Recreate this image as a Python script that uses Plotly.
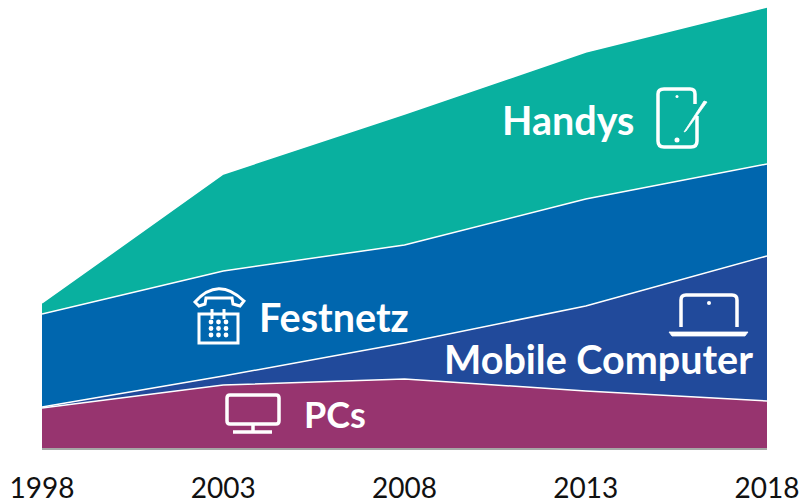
import plotly.graph_objects as go

years = [1998, 2003, 2008, 2013, 2018]
pcs = [40, 63, 69, 57, 47]
mobile = [1, 9, 36, 85, 145]
festnetz = [93, 105, 98, 107, 92]
handys = [11, 97, 131, 147, 157]

W, H = 802, 504
L, R, BASE = 42, 767, 448
FONT = "Lato"
WHITE = "#ffffff"

fig = go.Figure()
series = [("PCs", pcs, "#97346F"), ("Mobile Computer", mobile, "#214A9B"),
          ("Festnetz", festnetz, "#0066AE"), ("Handys", handys, "#09B09F")]
for name, vals, col in series:
    fig.add_trace(go.Scatter(x=years, y=vals, name=name, mode="lines", stackgroup="one",
                             fillcolor=col, line=dict(color=WHITE, width=1.5), hoverinfo="skip"))

shapes = []
def stroke(path, w=3.5):
    shapes.append(dict(type="path", path=path, xref="x2", yref="y2", line=dict(color=WHITE, width=w)))
def fill(path):
    shapes.append(dict(type="path", path=path, xref="x2", yref="y2", fillcolor=WHITE, line=dict(color=WHITE, width=0.8)))
def dot(x, y, r):
    shapes.append(dict(type="circle", xref="x2", yref="y2", x0=x-r, x1=x+r, y0=y-r, y1=y+r,
                       fillcolor=WHITE, line=dict(width=0)))

# tablet icon
stroke("M 695,104 V 94 Q 695,89 690,89 H 664 Q 658,89 658,94 V 141 Q 658,147 664,147 H 691 Q 697,147 697,141 V 116")
fill("M 704,101 L 707,102 L 686,131 L 684,132 Z")
dot(677, 96.5, 1.5)
dot(677, 140, 2.5)

# telephone icon
stroke("M 195,302 Q 218,276 244,301 L 240,306 L 233,304 L 232,298 H 206 L 205,304 L 199,306 Z", 3)
stroke("M 199,343 V 314 H 238 V 343 Z M 212,309 V 319 M 224,309 V 319", 3)
for yy in (322, 328.5, 335):
    for xx in (211, 218.5, 226):
        dot(xx, yy, 2.4)

# laptop icon
stroke("M 681,327 V 300 Q 681,295 686,295 H 732 Q 737,295 737,300 V 327")
fill("M 669,332 H 748 L 745,336 H 672 Z")
dot(709, 303, 2)

# monitor icon
stroke("M 230,395 H 276 Q 279,395 279,398 V 421 Q 279,424 276,424 H 230 Q 227,424 227,421 V 398 Q 227,395 230,395 Z M 253,424 V 432 M 233,432 H 272")

labels = [("Handys", 568, 119), ("Festnetz", 333.5, 316), ("Mobile Computer", 598, 358), ("PCs", 335, 414)]
annotations = [dict(text=t, x=x, y=y, xref="x2", yref="y2", showarrow=False,
                    font=dict(family=FONT, size=39.5 if t != "PCs" else 36, color=WHITE, weight="bold"))
               for t, x, y in labels]

fig.update_layout(
    width=W, height=H, margin=dict(l=L, r=W - R, t=0, b=H - BASE, autoexpand=False), showlegend=False,
    paper_bgcolor="white", plot_bgcolor="white",
    xaxis=dict(range=[1998, 2018], tickvals=years, ticks="", showgrid=False, automargin=False,
               zeroline=False, showline=True, linecolor="#A6A6A6", linewidth=1.5,
               tickfont=dict(family=FONT, size=28, color="#111111"), ticklabelstandoff=15),
    yaxis=dict(range=[0, BASE], visible=False),
    xaxis2=dict(range=[L, R], visible=False, overlaying="x", anchor="y2"),
    yaxis2=dict(range=[BASE, 0], visible=False, overlaying="y", anchor="x2"),
    shapes=shapes, annotations=annotations,
)
fig.write_html("out.html", post_script="document.body.style.margin='0';",
               config=dict(displayModeBar=False))
